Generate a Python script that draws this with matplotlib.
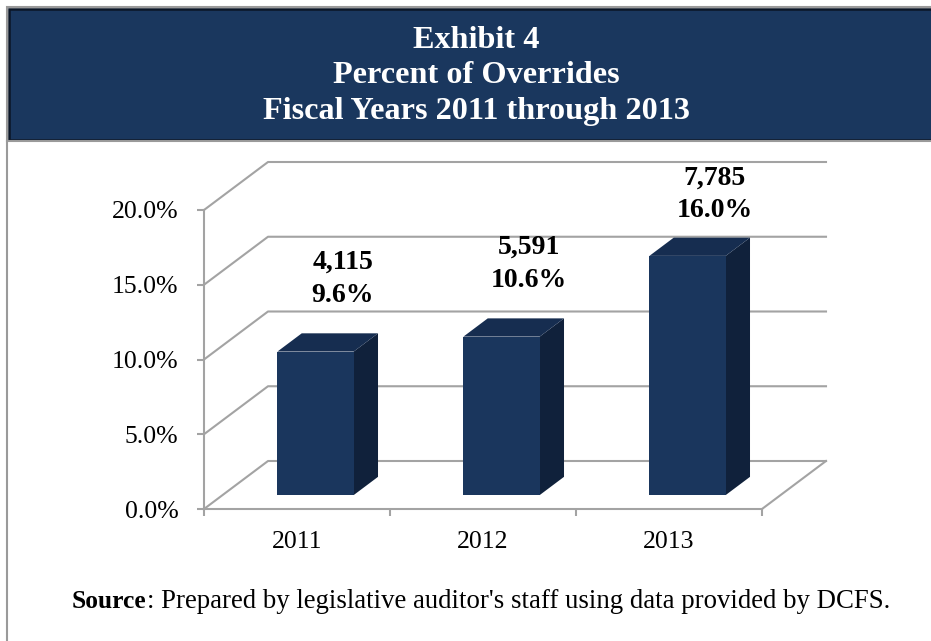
import numpy as np
import matplotlib
matplotlib.use('Agg')
import matplotlib.pyplot as plt
from matplotlib.patches import Rectangle, Polygon

plt.rcParams['font.family'] = ['Liberation Serif', 'DejaVu Serif']

years = ['2011', '2012', '2013']
percent = [9.6, 10.6, 16.0]
counts = [4115, 5591, 7785]
y_ticks = [0, 5, 10, 15, 20]

W, H = 931, 641
fig = plt.figure(figsize=(W / 100, H / 100), dpi=100)

# background layer in pixel coordinates (y down)
bg = fig.add_axes([0, 0, 1, 1])
bg.set_xlim(0, W)
bg.set_ylim(H, 0)
bg.axis('off')

# outer frame and header band
bg.add_patch(Rectangle((7, 7), W + 20, H + 20, facecolor='white',
                       edgecolor='#9a9a9a', lw=1.5))
bg.add_patch(Rectangle((8.5, 8.5), W + 20, 131, facecolor='#1a375e',
                       edgecolor='#0b1526', lw=1.8))
bg.plot([7, W], [141, 141], color='#9a9a9a', lw=1.5)

title_lines = ['Exhibit 4', 'Percent of Overrides', 'Fiscal Years 2011 through 2013']
for k, line in enumerate(title_lines):
    bg.text(476.5, 40 + 35.5 * k, line, color='white', fontsize=23.2,
            fontweight='bold', ha='center', va='center')

# source note: bold word followed by regular text
src_b = bg.text(72, 601, 'Source', fontsize=18.4, fontweight='bold',
                ha='left', va='center')
fig.canvas.draw()
bb = src_b.get_window_extent()
x_next = bg.transData.inverted().transform((bb.x1, bb.y0))[0]
bg.text(x_next, 601, ": Prepared by legislative auditor's staff using data provided by DCFS.",
        fontsize=19.3, ha='left', va='center')

# chart axes: x in category units, y in percent
px_per_cat = 186.0
px_per_pct = 74.75 / 5
x0, y0, x1, y1 = 204, 509, 830, 150
ax = fig.add_axes([x0 / W, (H - y0) / H, (x1 - x0) / W, (y0 - y1) / H])
ax.set_xlim(0, (x1 - x0) / px_per_cat)
ax.set_ylim(0, (y0 - y1) / px_per_pct)
ax.patch.set_alpha(0)

# depth of the 3D box in data units
DX = 64 / px_per_cat
DY = 48 / px_per_pct
n = len(years)
grid_c = '#a3a3a3'

for t in y_ticks:
    ax.plot([0, DX, n + DX], [t, t + DY, t + DY], color=grid_c, lw=1.5,
            clip_on=False, zorder=1)
ax.plot([n, n + DX], [0, DY], color=grid_c, lw=1.5, clip_on=False, zorder=1)

# 3D bars
bar_w = 0.41
f0, f1 = 0.29, 0.67
front_c, top_c, side_c = '#1a365d', '#162d50', '#10213b'
for i, v in enumerate(percent):
    xl = i + 0.5 - bar_w / 2 + f0 * DX
    xr = xl + bar_w
    b0 = f0 * DY
    ddx, ddy = (f1 - f0) * DX, (f1 - f0) * DY
    ax.add_patch(Polygon([(xr, b0), (xr + ddx, b0 + ddy), (xr + ddx, b0 + ddy + v), (xr, b0 + v)],
                         closed=True, facecolor=side_c, edgecolor='none', zorder=3))
    ax.add_patch(Polygon([(xl, b0 + v), (xr, b0 + v), (xr + ddx, b0 + v + ddy), (xl + ddx, b0 + v + ddy)],
                         closed=True, facecolor=top_c, edgecolor='none', zorder=3))
    ax.add_patch(Rectangle((xl, b0), bar_w, v, facecolor=front_c,
                           edgecolor='none', zorder=4))
    # value labels sit above the bar, kept inside the plot area
    ly = min(v + 5.8, 21.05)
    ax.text(i + 0.745, ly, f'{counts[i]:,}\n{v:.1f}%', fontsize=20,
            fontweight='bold', ha='center', va='center', linespacing=1.4,
            zorder=5, clip_on=False)

# axes spines, ticks and labels
for s in ['top', 'right']:
    ax.spines[s].set_visible(False)
for s in ['left', 'bottom']:
    ax.spines[s].set_color(grid_c)
    ax.spines[s].set_linewidth(1.5)
ax.spines['left'].set_bounds(0, 20)
ax.spines['bottom'].set_bounds(0, n)

ax.set_yticks(y_ticks)
ax.set_yticklabels([f'{t:.1f}%' for t in y_ticks])
ax.tick_params(axis='y', direction='out', length=5, width=1.5, color=grid_c,
               labelsize=18.5, pad=13.5)

ax.set_xticks(range(n + 1))
ax.set_xticklabels([''] * (n + 1))
ax.set_xticks(np.arange(n) + 0.5, minor=True)
ax.set_xticklabels(years, minor=True)
ax.tick_params(axis='x', which='major', direction='out', length=5, width=1.5,
               color=grid_c)
ax.tick_params(axis='x', which='minor', length=0, labelsize=18.5, pad=16)

fig.savefig('out.png', dpi=100)
